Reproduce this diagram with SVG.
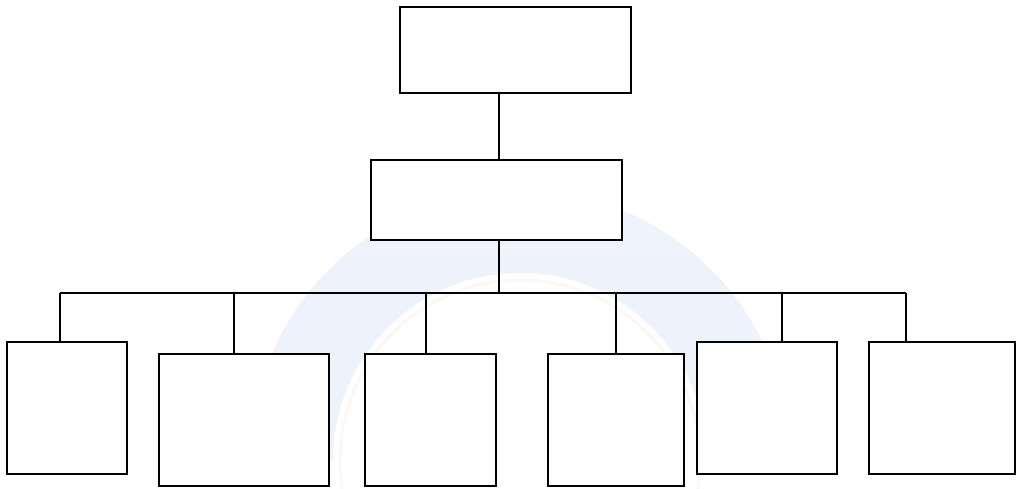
<svg xmlns="http://www.w3.org/2000/svg" width="1021" height="489" viewBox="0 0 1021 489">
  <style>
    .box { fill: #ffffff; stroke: #000000; stroke-width: 2; }
    .link { fill: none; stroke: #000000; stroke-width: 2; }
  </style>
  <rect x="0" y="0" width="1021" height="489" fill="#ffffff"/>
  <g id="watermark" opacity="0.4">
    <path d="M 250 460 A 270 270 0 0 1 790 460 L 707 460 A 187 187 0 0 0 333 460 Z" fill="#d6e0f5"/>
    <circle cx="520" cy="460" r="180" fill="none" stroke="#f2f0e6" stroke-width="3"/>
  </g>
  <g id="connectors">
    <line class="link" x1="499" y1="93" x2="499" y2="160"/>
    <line class="link" x1="499" y1="240" x2="499" y2="293"/>
    <line class="link" x1="60" y1="293" x2="906" y2="293"/>
    <line class="link" x1="60" y1="293" x2="60" y2="342"/>
    <line class="link" x1="234" y1="293" x2="234" y2="354"/>
    <line class="link" x1="426" y1="293" x2="426" y2="354"/>
    <line class="link" x1="616" y1="293" x2="616" y2="354"/>
    <line class="link" x1="782" y1="293" x2="782" y2="342"/>
    <line class="link" x1="906" y1="293" x2="906" y2="342"/>
  </g>
  <g id="top"><rect class="box" x="400" y="7" width="231" height="86"/></g>
  <g id="middle"><rect class="box" x="371" y="160" width="251" height="80"/></g>
  <g id="child1"><rect class="box" x="7" y="342" width="120" height="132"/></g>
  <g id="child2"><rect class="box" x="159" y="354" width="170" height="132"/></g>
  <g id="child3"><rect class="box" x="365" y="354" width="131" height="132"/></g>
  <g id="child4"><rect class="box" x="548" y="354" width="136" height="132"/></g>
  <g id="child5"><rect class="box" x="697" y="342" width="140" height="132"/></g>
  <g id="child6"><rect class="box" x="869" y="342" width="146" height="132"/></g>
</svg>
